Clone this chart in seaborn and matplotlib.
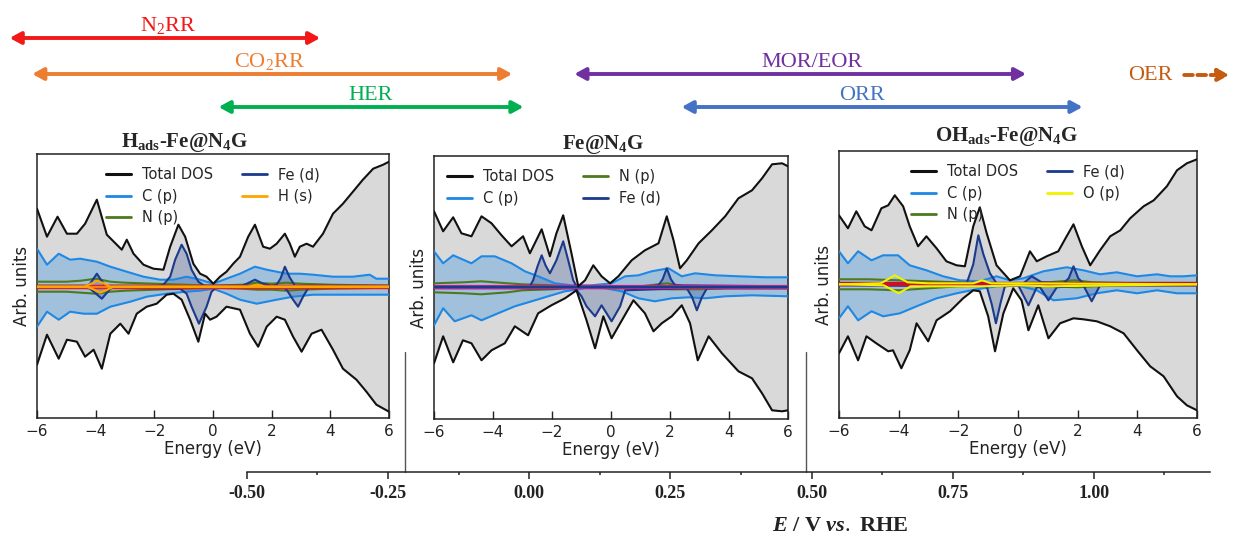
import matplotlib
matplotlib.use("Agg")
import matplotlib.pyplot as plt
import seaborn as sns
from matplotlib import transforms
from matplotlib.lines import Line2D
from matplotlib.ticker import AutoMinorLocator, FixedLocator

# ---------------- data (arbitrary DOS units) ----------------
# Panel 1: H_ads-Fe@N4G
p1_tot_up_E = [-6.00,-5.66,-5.30,-4.98,-4.64,-4.36,-3.96,-3.62,-3.28,-3.11,-2.94,-2.71,-2.37,-2.03,-1.69,-1.46,-1.18,-0.95,-0.67,-0.44,-0.22,0.01,0.24,0.46,0.69,0.92,1.20,1.43,1.71,1.94,2.17,2.45,2.62,2.79,2.96,3.19,3.41,3.75,4.09,4.43,4.77,5.11,5.46,5.80,6.00]
p1_tot_up = [78,50,70,53,53,63,87,52,42,37,47,33,22,18,17,40,62,50,23,13,10,3,10,15,23,30,50,62,40,38,43,53,43,30,40,43,40,53,73,83,95,107,118,122,125]
p1_tot_dn_E = [-6.00,-5.66,-5.26,-4.98,-4.64,-4.36,-4.07,-3.79,-3.50,-3.16,-2.88,-2.60,-2.26,-1.92,-1.58,-1.35,-1.07,-0.78,-0.50,-0.27,-0.10,0.12,0.46,0.92,1.26,1.54,1.83,2.17,2.45,2.73,3.02,3.36,3.70,4.09,4.43,4.89,5.23,5.57,6.00]
p1_tot_dn = [-78,-48,-72,-53,-55,-70,-63,-82,-47,-37,-47,-27,-20,-17,-8,-7,-13,-33,-55,-27,-33,-30,-20,-23,-47,-60,-40,-30,-33,-50,-65,-47,-43,-63,-82,-93,-105,-118,-125]
p1_c_up_E = [-6.00,-5.66,-5.26,-4.87,-4.53,-3.96,-3.50,-2.94,-2.37,-1.80,-1.35,-0.90,-0.44,0.01,0.46,0.92,1.43,1.83,2.17,2.51,2.96,3.41,4.09,4.77,5.34,5.57,6.00]
p1_c_up = [38,22,33,27,28,25,20,15,10,7,7,10,7,3,8,13,20,17,15,13,13,12,10,10,12,8,8]
p1_c_dn_E = [-6.00,-5.66,-5.26,-4.87,-4.41,-3.96,-3.50,-2.82,-2.26,-1.58,-0.90,-0.44,0.01,0.46,0.92,1.49,1.83,2.17,2.73,3.41,4.09,4.77,6.00]
p1_c_dn = [-40,-25,-33,-25,-27,-27,-20,-15,-10,-7,-5,-4,-2,-7,-13,-17,-15,-13,-10,-8,-8,-8,-8]
p1_fe_up_E = [-6.0,-4.30,-4.19,-3.96,-3.73,-3.60,-1.80,-1.69,-1.46,-1.29,-1.07,-0.90,-0.73,-0.50,-0.30,1.00,1.15,1.43,1.71,2.00,2.17,2.30,2.45,2.62,2.79,6.0]
p1_fe_up = [1,1,3,13,3,1,1,2,10,27,42,33,17,5,1,1,3,7,3,1,2,8,20,9,1,1]
p1_fe_dn_E = [-6.0,-4.30,-4.19,-3.79,-3.50,-3.40,-1.12,-0.90,-0.73,-0.48,-0.22,-0.05,0.10,2.40,2.51,2.73,2.90,3.07,3.25,6.0]
p1_fe_dn = [-1,-1,-2,-12,-2,-1,-2,-7,-20,-37,-20,-5,-1,-1,-3,-13,-20,-10,-1,-1]
p1_n_E = [-6,-5,-4.5,-4,-3.5,-3,-2,-1,0,1,1.5,2,2.5,3,4,6]
p1_n_up = [5,5,6,8,5,4,3,2,1,2,4,3,4,3,2,1]
p1_n_dn = [-5,-5,-6,-7,-5,-4,-3,-2,-1,-2,-3,-3,-4,-3,-2,-1]
p1_x_up_E = [-6,-4.4,-4.15,-3.95,-3.7,-3.5,1.2,1.5,1.8,6]
p1_x_up = [0,0,3,6,3,0,0,2,0,0]
p1_x_dn_E = [-6,-4.3,-4.05,-3.85,-3.6,-3.4,6]
p1_x_dn = [0,0,-3,-6,-3,0,0]

# Panel 2: Fe@N4G
p2_tot_up_E = [-6.00,-5.69,-5.35,-5.07,-4.73,-4.39,-4.05,-3.71,-3.37,-2.98,-2.75,-2.35,-2.07,-1.85,-1.62,-1.34,-1.11,-0.88,-0.60,-0.32,-0.03,0.25,0.70,1.15,1.61,1.89,2.12,2.34,2.57,2.97,3.42,3.87,4.32,4.78,5.12,5.46,5.80,6.00]
p2_tot_up = [76,56,70,54,51,71,64,52,41,51,34,58,31,54,72,34,1,7,22,11,4,11,27,37,44,71,47,19,27,44,57,71,89,97,109,123,124,121]
p2_tot_dn_E = [-6.00,-5.69,-5.35,-5.02,-4.73,-4.39,-4.05,-3.60,-3.26,-2.81,-2.47,-2.02,-1.56,-1.17,-0.83,-0.54,-0.26,0.02,0.31,0.76,1.15,1.44,1.72,2.06,2.40,2.68,2.94,3.31,3.76,4.32,4.78,5.12,5.46,5.80,6.00]
p2_tot_dn = [-76,-49,-75,-53,-56,-73,-63,-56,-39,-48,-26,-18,-11,-3,-33,-61,-29,-51,-36,-13,-26,-44,-36,-29,-18,-36,-73,-49,-66,-84,-91,-106,-123,-124,-123]
p2_c_up_E = [-6.00,-5.69,-5.35,-4.73,-4.39,-3.94,-3.37,-2.92,-2.47,-1.90,-1.34,-0.66,0.02,0.48,0.93,1.38,1.95,2.40,2.85,3.53,4.32,5.23,6.00]
p2_c_up = [36,24,32,24,31,31,24,16,11,4,2,2,4,11,12,16,19,11,14,12,11,10,10]
p2_c_dn_E = [-6.00,-5.69,-5.30,-4.73,-4.39,-3.83,-3.26,-2.69,-2.13,-1.56,-0.88,-0.20,0.36,0.93,1.49,2.06,2.63,3.19,3.87,4.78,6.00]
p2_c_dn = [-38,-21,-34,-28,-33,-26,-19,-14,-9,-4,-1,-1,-4,-11,-14,-11,-10,-11,-9,-8,-9]
p2_fe_up_E = [-6.0,-2.75,-2.64,-2.49,-2.35,-2.22,-2.07,-1.85,-1.62,-1.45,-1.28,-1.17,1.40,1.61,1.75,1.89,2.03,2.17,6.0]
p2_fe_up = [1,1,7,21,32,22,14,27,46,27,7,1,1,2,8,19,8,2,1]
p2_fe_dn_E = [-6.0,-1.22,-1.00,-0.83,-0.54,-0.32,0.02,0.31,0.48,2.57,2.75,2.91,3.08,3.25,6.0]
p2_fe_dn = [-1,-1,-9,-19,-29,-18,-34,-19,-3,-1,-10,-23,-10,-1,-1]
p2_n_up_E = [-6,-5,-4.4,-3.5,-3,-2,-1.2,0,1,1.9,2.5,4,6]
p2_n_up = [4,5,6,4,3,2,0,1,1,4,1,1,1]
p2_n_dn_E = [-6,-5,-4.4,-3.5,-3,-2,-1.2,0,1,2,3,4,6]
p2_n_dn = [-5,-6,-7,-5,-3,-2,0,-1,-1,-2,-2,-1,-1]

# Panel 3: OH_ads-Fe@N4G
p3_tot_up_E = [-6.00,-5.70,-5.42,-5.14,-4.91,-4.58,-4.35,-4.13,-3.85,-3.63,-3.35,-3.07,-2.73,-2.40,-2.06,-1.78,-1.50,-1.28,-1.05,-0.72,-0.27,0.07,0.40,0.63,0.96,1.35,1.63,1.86,2.14,2.42,2.75,3.09,3.43,3.76,4.21,4.55,4.99,5.33,5.66,6.00]
p3_tot_up = [69,56,73,58,54,76,79,89,78,58,38,48,36,23,19,18,58,77,51,19,4,8,33,23,28,33,48,60,38,19,34,48,54,66,78,84,98,114,121,125]
p3_tot_dn_E = [-6.00,-5.70,-5.36,-5.08,-4.75,-4.35,-4.19,-3.91,-3.63,-3.40,-3.01,-2.73,-2.28,-1.84,-1.50,-1.28,-1.00,-0.77,-0.49,-0.16,0.12,0.35,0.68,1.02,1.41,1.86,2.19,2.64,3.09,3.54,3.99,4.43,4.88,5.33,5.66,6.00]
p3_tot_dn = [-69,-52,-76,-52,-59,-67,-66,-84,-66,-39,-57,-36,-27,-14,-6,-7,-32,-67,-29,-4,-16,-46,-21,-54,-39,-34,-35,-37,-42,-49,-66,-82,-92,-112,-121,-126]
p3_c_up_E = [-6.00,-5.70,-5.36,-4.91,-4.52,-4.02,-3.63,-3.07,-2.51,-1.95,-1.28,-0.72,-0.27,0.18,0.85,1.63,2.19,2.75,3.31,3.99,4.66,5.10,5.55,6.00]
p3_c_up = [33,21,33,24,29,29,19,14,8,4,3,8,4,6,13,17,14,10,12,8,10,8,8,9]
p3_c_dn_E = [-6.00,-5.70,-5.36,-4.91,-4.52,-3.96,-3.40,-2.73,-2.06,-1.39,-0.72,-0.04,0.63,1.19,1.97,2.64,3.31,3.99,4.66,5.33,6.00]
p3_c_dn = [-34,-22,-36,-27,-32,-29,-22,-14,-9,-5,-2,-1,-6,-16,-14,-9,-6,-9,-6,-9,-9]
p3_fe_up_E = [-6.0,-1.72,-1.50,-1.33,-1.16,-0.94,-0.72,0.18,0.46,0.79,1.52,1.70,1.86,2.02,2.19,6.0]
p3_fe_up = [1,1,20,49,30,11,1,1,8,2,1,6,18,6,1,1]
p3_fe_dn_E = [-6.0,-1.05,-0.88,-0.74,-0.58,-0.44,0.01,0.35,0.63,0.74,1.02,1.30,2.19,2.47,2.75,6.0]
p3_fe_dn = [-1,-2,-20,-39,-18,-2,-1,-21,-3,-3,-16,-3,-1,-17,-1,-1]
p3_n_up_E = [-6,-5,-4,-3,-2,-1,0,1,1.9,2.5,4,6]
p3_n_up = [5,5,4,3,2,1,1,2,4,2,1,1]
p3_n_dn_E = [-6,-5,-4,-3,-2,-1,0,1,2,2.5,4,6]
p3_n_dn = [-5,-5,-6,-4,-2,-1,-1,-2,-3,-2,-1,-1]
p3_x_up_E = [-6,-4.6,-4.13,-3.7,-3,-1.5,-1.2,-0.9,0,6]
p3_x_up = [0,1,9,2,1,1,4,1,1,0]
p3_x_dn_E = [-6,-4.5,-4.0,-3.6,-3,-1.2,0,1,6]
p3_x_dn = [0,-1,-9,-2,-2,-2,-1,-2,0]

baseline_E = [-6, 6]
baseline_val = [0, 0]

panel_titles = [r"H$_{\mathbf{ads}}$-Fe@N$_{\mathbf{4}}$G", r"Fe@N$_{\mathbf{4}}$G",
                r"OH$_{\mathbf{ads}}$-Fe@N$_{\mathbf{4}}$G"]
energy_ticks = [-6, -4, -2, 0, 2, 4, 6]

# Potential scale (V vs. RHE)
pot_ticks = [-0.50, -0.25, 0.00, 0.25, 0.50, 0.75, 1.00]
pot_ticklabels = ["-0.50", "-0.25", "0.00", "0.25", "0.50", "0.75", "1.00"]
reactions = [r"N$_2$RR", r"CO$_2$RR", "HER", "MOR/EOR", "ORR"]
react_start = [-0.92, -0.88, -0.55, 0.08, 0.27]
react_end = [-0.37, -0.03, -0.01, 0.88, 0.98]
react_row = [0, 1, 2, 1, 2]
react_label_V = [-0.64, -0.46, -0.28, 0.50, 0.59]
react_colors = ["#f21818", "#ed7d31", "#00b050", "#7030a0", "#4472c4"]
oer_label = "OER"
oer_label_V = 1.10
oer_start, oer_end = 1.16, 1.24
oer_color = "#c55a11"
separators_V = [-0.22, 0.49]

# ---------------- style ----------------
sns.set_theme(style="ticks")
plt.rcParams["font.family"] = ["DejaVu Sans"]
plt.rcParams["mathtext.fontset"] = "custom"
plt.rcParams["mathtext.rm"] = "Liberation Serif"
plt.rcParams["mathtext.bf"] = "Liberation Serif:bold"
plt.rcParams["mathtext.it"] = "Liberation Serif:italic:bold"

TOT, GREY = "#111111", "#d9d9d9"
CCOL, NCOL, FECOL = "#1e88e5", "#4c7a1c", "#1a3a8c"
HCOL, OCOL = "#ffa500", "#f2f200"

W, H = 1233, 537
fig = plt.figure(figsize=(W / 100, H / 100), dpi=100)


def axes_px(l, t, r, b):
    return fig.add_axes([l / W, 1 - b / H, (r - l) / W, (b - t) / H])


panels = [
    dict(box=(37, 154, 389, 418), ylim=(-131.3, 132.7), title_x=0.42, pad=5,
         tot=(p1_tot_up_E, p1_tot_up, p1_tot_dn_E, p1_tot_dn),
         c=(p1_c_up_E, p1_c_up, p1_c_dn_E, p1_c_dn),
         fe=(p1_fe_up_E, p1_fe_up, p1_fe_dn_E, p1_fe_dn),
         n=(p1_n_E, p1_n_up, p1_n_E, p1_n_dn),
         x=(p1_x_up_E, p1_x_up, p1_x_dn_E, p1_x_dn), xlab="H (s)", xcol=HCOL,
         base=[("#e2231a", 3.2), ("#ff7a1a", 1.4)], loc="upper center", order="five"),
    dict(box=(434, 156, 788, 419), ylim=(-131.7, 131.3), title_x=0.477, pad=5,
         tot=(p2_tot_up_E, p2_tot_up, p2_tot_dn_E, p2_tot_dn),
         c=(p2_c_up_E, p2_c_up, p2_c_dn_E, p2_c_dn),
         fe=(p2_fe_up_E, p2_fe_up, p2_fe_dn_E, p2_fe_dn),
         n=(p2_n_up_E, p2_n_up, p2_n_dn_E, p2_n_dn),
         x=None, base=[("#d61a8c", 3.0), (FECOL, 1.6)], loc="upper left", order="four"),
    dict(box=(839, 151, 1197, 418), ylim=(-133.7, 133.3), title_x=0.469, pad=7,
         tot=(p3_tot_up_E, p3_tot_up, p3_tot_dn_E, p3_tot_dn),
         c=(p3_c_up_E, p3_c_up, p3_c_dn_E, p3_c_dn),
         fe=(p3_fe_up_E, p3_fe_up, p3_fe_dn_E, p3_fe_dn),
         n=(p3_n_up_E, p3_n_up, p3_n_dn_E, p3_n_dn),
         x=(p3_x_up_E, p3_x_up, p3_x_dn_E, p3_x_dn), xlab="O (p)", xcol=OCOL,
         base=[("#c8102e", 3.2)], loc="upper center", order="five"),
]


def pair(ax, data, color, lw, z):
    for E, v in ((data[0], data[1]), (data[2], data[3])):
        sns.lineplot(x=E, y=v, ax=ax, color=color, lw=lw, estimator=None,
                     sort=False, legend=False, zorder=z)


for i, p in enumerate(panels):
    ax = axes_px(*p["box"])
    tu_E, tu, td_E, td = p["tot"]
    ax.fill_between(tu_E, 0, tu, color=GREY, lw=0, zorder=1)
    ax.fill_between(td_E, 0, td, color=GREY, lw=0, zorder=1)
    cu_E, cu, cd_E, cd = p["c"]
    ax.fill_between(cu_E, 0, cu, color=CCOL, alpha=0.3, lw=0, zorder=2)
    ax.fill_between(cd_E, 0, cd, color=CCOL, alpha=0.3, lw=0, zorder=2)
    fu_E, fu, fd_E, fd = p["fe"]
    ax.fill_between(fu_E, 0, fu, color=FECOL, alpha=0.25, lw=0, zorder=3)
    ax.fill_between(fd_E, 0, fd, color=FECOL, alpha=0.25, lw=0, zorder=3)

    pair(ax, p["c"], CCOL, 1.5, 4)
    pair(ax, p["n"], NCOL, 1.5, 5)
    pair(ax, p["fe"], FECOL, 1.5, 6)
    for k, (col, lw) in enumerate(p["base"]):
        sns.lineplot(x=baseline_E, y=baseline_val, ax=ax, color=col, lw=lw,
                     estimator=None, legend=False, zorder=7 + 0.1 * k)
    if p["x"] is not None:
        pair(ax, p["x"], p["xcol"], 1.5, 8)
    pair(ax, p["tot"], TOT, 1.5, 9)

    ax.set_xlim(-6, 6)
    ax.set_ylim(*p["ylim"])
    ax.set_xticks(energy_ticks)
    ax.set_yticks([])
    ax.tick_params(axis="x", direction="in", length=6, width=1, labelsize=11, pad=4,
                   colors="#222222")
    for s in ax.spines.values():
        s.set_color("#222222")
        s.set_linewidth(1.1)
    ax.set_xlabel("Energy (eV)", fontsize=12, labelpad=1, color="#222222")
    ax.set_ylabel("Arb. units", fontsize=12, labelpad=4, color="#222222")
    ax.set_title(panel_titles[i], x=p["title_x"], pad=p["pad"], fontsize=15,
                 fontweight="bold", family="Liberation Serif")

    h_tot = Line2D([], [], color=TOT, lw=2.2)
    h_c = Line2D([], [], color=CCOL, lw=2)
    h_n = Line2D([], [], color=NCOL, lw=2)
    h_fe = Line2D([], [], color=FECOL, lw=2)
    if p["order"] == "five":
        h_x = Line2D([], [], color=p["xcol"], lw=2)
        handles = [h_tot, h_c, h_n, h_fe, h_x]
        labels = ["Total DOS", "C (p)", "N (p)", "Fe (d)", p["xlab"]]
    else:
        handles = [h_tot, h_c, h_n, h_fe]
        labels = ["Total DOS", "C (p)", "N (p)", "Fe (d)"]
    leg = ax.legend(handles, labels, loc=p["loc"], ncol=2, frameon=False,
                    fontsize=10.5, handlelength=1.7, handletextpad=0.75,
                    columnspacing=2.0, labelspacing=0.45)
    leg.set_zorder(20)

# ---------------- potential axis ----------------
x0 = 246.8
ppv = 564.7
pot_lim = (-0.5, 1.205)
axp = axes_px(x0, 471, x0 + (pot_lim[1] - pot_lim[0]) * ppv, 472)
axp.set_xlim(*pot_lim)
axp.set_ylim(0, 1)
axp.patch.set_visible(False)
for side in ("top", "left", "right"):
    axp.spines[side].set_visible(False)
axp.spines["bottom"].set_color("#222222")
axp.spines["bottom"].set_linewidth(1.1)
axp.set_yticks([])
axp.xaxis.set_major_locator(FixedLocator(pot_ticks))
axp.set_xticklabels(pot_ticklabels, fontsize=13, fontweight="bold",
                    family="Liberation Serif", color="#222222")
axp.xaxis.set_minor_locator(AutoMinorLocator(2))
axp.tick_params(axis="x", which="major", direction="out", length=5, width=1.1,
                pad=4, colors="#222222")
axp.tick_params(axis="x", which="minor", direction="out", length=2.5, width=1.1)

fig.text((x0 + (0.551 + 0.5) * ppv) / W, 1 - 526 / H,
         r"$\mathit{E}$ / V $\mathit{vs.}$ RHE", ha="center", va="center",
         fontsize=16, fontweight="bold", family="Liberation Serif", color="#222222")

blend = transforms.blended_transform_factory(axp.transData, fig.transFigure)
for v in separators_V:
    axp.plot([v, v], [1 - 352 / H, 1 - 472 / H], transform=blend, color="#555555",
             lw=1.0, clip_on=False)

row_y_px = [38, 74, 107]
for name, s, e, r, lv, col in zip(reactions, react_start, react_end, react_row,
                                  react_label_V, react_colors):
    y = 1 - row_y_px[r] / H
    axp.annotate("", xy=(e, y), xytext=(s, y), xycoords=blend, textcoords=blend,
                 arrowprops=dict(arrowstyle="<|-|>,head_length=0.55,head_width=0.3",
                                 mutation_scale=12, color=col, lw=2.8,
                                 shrinkA=0, shrinkB=0),
                 annotation_clip=False)
    axp.text(lv, 1 - (row_y_px[r] - 7) / H, name, transform=blend, ha="center",
             va="baseline", fontsize=16, color=col, family="Liberation Serif")

y_oer = 1 - (row_y_px[1] + 1) / H
axp.annotate("", xy=(oer_end, y_oer), xytext=(oer_start, y_oer), xycoords=blend,
             textcoords=blend,
             arrowprops=dict(arrowstyle="-|>,head_length=0.55,head_width=0.3",
                             mutation_scale=12, color=oer_color, lw=2.8,
                             linestyle=(0, (2.2, 1.2)), shrinkA=0, shrinkB=0),
             annotation_clip=False)
axp.text(oer_label_V, y_oer, oer_label, transform=blend, ha="center", va="center",
         fontsize=16, color=oer_color, family="Liberation Serif")

fig.savefig("out.png", dpi=100)
